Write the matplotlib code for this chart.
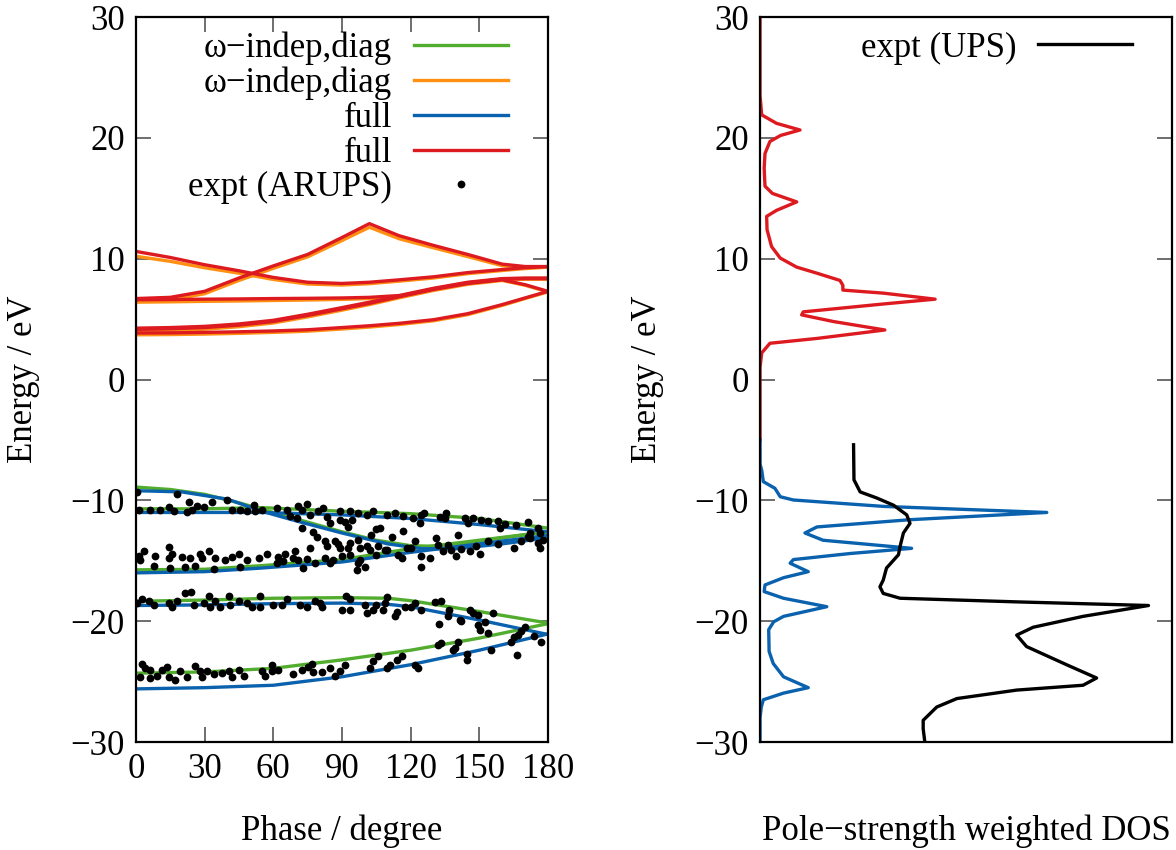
import numpy as np
import matplotlib
matplotlib.use('Agg')
import matplotlib.pyplot as plt

plt.rcParams['font.family'] = ['Liberation Serif', 'DejaVu Serif']
plt.rcParams['font.size'] = 24

# ---- conduction bands (phase grid shared) ----
ph_c = [0, 15, 30, 45, 60, 75, 90, 102, 115, 130, 145, 160, 170, 180]
red_c1 = [3.85, 3.86, 3.9, 3.95, 4.02, 4.12, 4.3, 4.45, 4.65, 4.95, 5.45, 6.2, 6.75, 7.3]
red_c2 = [4.15, 4.2, 4.3, 4.5, 4.8, 5.3, 5.85, 6.3, 6.85, 7.45, 7.95, 8.25, 7.85, 7.3]
red_c3 = [4.25, 4.3, 4.4, 4.6, 4.9, 5.4, 5.95, 6.4, 6.9, 7.5, 8.0, 8.3, 8.35, 8.35]
red_c4 = [6.6, 6.62, 6.65, 6.67, 6.7, 6.72, 6.75, 6.8, 6.95, 7.55, 8.05, 8.35, 8.4, 8.4]
red_c5 = [6.7, 6.8, 7.3, 8.4, 9.4, 10.35, 11.75, 12.9, 11.9, 11.1, 10.35, 9.55, 9.35, 9.35]
red_c6 = [10.6, 10.1, 9.5, 9.0, 8.45, 8.05, 7.95, 8.05, 8.25, 8.5, 8.85, 9.1, 9.25, 9.35]

org_c1 = [3.7, 3.72, 3.76, 3.82, 3.9, 4.0, 4.18, 4.34, 4.55, 4.86, 5.37, 6.13, 6.7, 7.25]
org_c2 = [4.0, 4.06, 4.16, 4.37, 4.68, 5.18, 5.74, 6.2, 6.76, 7.37, 7.88, 8.2, 7.8, 7.25]
org_c3 = [4.1, 4.16, 4.27, 4.48, 4.79, 5.29, 5.85, 6.3, 6.82, 7.43, 7.94, 8.25, 8.3, 8.3]
org_c4 = [6.4, 6.43, 6.47, 6.5, 6.54, 6.58, 6.63, 6.7, 6.86, 7.48, 8.0, 8.3, 8.35, 8.35]
org_c5 = [6.45, 6.58, 7.1, 8.2, 9.2, 10.15, 11.5, 12.6, 11.65, 10.9, 10.17, 9.42, 9.25, 9.3]
org_c6 = [10.2, 9.78, 9.25, 8.8, 8.28, 7.9, 7.82, 7.93, 8.14, 8.4, 8.76, 9.02, 9.18, 9.3]

# ---- valence bands ----
ph_vA = [0, 15, 30, 45, 60, 75, 90, 105, 120, 130, 145, 160, 180]
grn_vA = [-8.9, -9.1, -9.5, -10.2, -11.0, -11.8, -12.6, -13.3, -13.75, -13.8, -13.5, -13.1, -12.6]
ph_bA = [0, 20, 40, 55, 70, 90, 110, 125, 140, 160, 180]
blu_vA = [-9.2, -9.3, -9.9, -10.9, -11.7, -12.7, -13.6, -14.0, -14.0, -13.6, -13.1]

ph_v = [0, 30, 55, 90, 120, 150, 180]
grn_vB = [-10.7, -10.7, -10.6, -10.9, -11.1, -11.5, -12.3]
blu_vB = [-11.0, -11.0, -11.0, -11.2, -11.5, -12.0, -12.6]
grn_vC = [-15.75, -15.7, -15.4, -14.9, -14.0, -13.3, -12.6]
blu_vC = [-16.0, -15.9, -15.6, -15.1, -14.3, -13.6, -12.9]

ph_vD = [0, 30, 60, 90, 110, 120, 150, 180]
grn_vD = [-18.35, -18.25, -18.1, -18.05, -18.1, -18.3, -19.2, -20.15]
blu_vD = [-18.7, -18.65, -18.55, -18.5, -18.6, -18.8, -19.9, -21.1]

ph_vE = [0, 30, 60, 90, 120, 150, 180]
grn_vE = [-24.3, -24.2, -23.9, -23.2, -22.4, -21.4, -20.2]
blu_vE = [-25.6, -25.5, -25.3, -24.6, -23.6, -22.4, -21.05]

# ---- experimental ARUPS points ----
arups_ph = [0.4, 17.9, 1.2, 6.3, 10.6, 14.3, 16.5, 23, 22.3, 24.5, 26.6, 29.6, 33.2, 39.8, 41.9, 45.6,
            48.5, 51.4, 52.1, 55,
            1.2, 3.4, 1.9, 8.4, 7.7, 14.3, 15.7, 14.3, 15, 20.1, 21.5, 23.7, 25.9, 28.1, 28.8, 31.8,
            34.6, 33.9, 39, 41.9, 44.9, 45.6, 48.5, 53.6, 57.2,
            61.5, 65.8, 70.9, 74.6, 72.4, 67.3, 70.2, 76, 79.7, 81.8, 83.3, 84.8, 89.1, 93.5, 89.1,
            91.3, 94.2, 97.1, 100.8, 103.7, 109.5, 113.1, 116.8, 92.8,
            72.4, 77.5, 78.9, 82.6, 83.3, 76, 86.9, 88.4, 89.1, 93.5, 92.8, 97.1, 97.9, 100.8, 102.2,
            102.9, 105.1, 106.6, 105.9, 109.5, 111.7, 116.8,
            62.2, 61.5, 65.1, 64.4, 69.5, 68.7, 70.9, 73.1, 74.6, 78.2, 82.6, 84.8, 86.2, 89.9, 93.5,
            97.9, 97.1, 96.4, 100, 105.1, 108.8, 114.6, 116.1, 118.3,
            121, 124.6, 125.8, 123.9, 132.7, 135.6, 134.9, 143.6, 145, 147.2, 150.9, 153.8, 158.1,
            158.9, 161.1, 166.1, 171.3, 172, 172, 175.6, 176.4, 140.7,
            121.8, 120.3, 124.6, 128.3, 124.6, 131.2, 131.9, 134.1, 136.3, 137.7, 139.9, 142.1, 145.8,
            148.7, 150.2, 153.8, 158.1, 165.4, 168.3, 171.3, 175.6, 176.4, 177.8,
            0.4, 2.6, 5.5, 7.7, 14.3, 15.7, 17.9, 21.5, 24.2, 25.2, 29.6, 31.8, 32.5, 34.6, 36.8,
            40.5, 41.2, 44.9, 48.5, 50.7, 54.3, 54.3,
            2.6, 4.1, 1.9, 6.3, 6.3, 9.2, 11.4, 13.5, 14.3, 17.2, 19.4, 22.3, 25.9, 28.1, 28.8, 31,
            33.9, 37.6, 40.5, 41.9, 44.9, 47.1, 55, 56.5,
            60, 63.7, 65.8, 71.6, 74.6, 78.2, 80.4, 81.1, 89.9, 92, 93.5, 93.5, 100, 100.8, 103.7,
            105.1, 108, 108.8, 109.5, 113.1, 113.9, 117.5,
            59.3, 59.3, 62.2, 68.7, 72.4, 75.3, 76.8, 77.5, 81.1, 84.8, 86.9, 89.1, 91.3, 102.2,
            103.7, 105.9, 109.5, 111, 113.9, 116.1,
            120.3, 121.8, 124.6, 130.5, 133.4, 137, 136.3, 132.2, 141.4, 142.1, 145.8, 147.2, 149.4,
            149.4, 150.2, 152.3, 156, 153.8, 131.9, 133.1, 138.5, 139.2, 140.7, 144.7, 144.7, 155,
            164, 165.4, 166.9, 168.3, 170.1, 173.9, 177.1, 166.6, 121.8, 123.2]
arups_e = [-9.3, -9.45, -10.8, -10.8, -10.8, -10.55, -10.9, -10.1, -11.0, -10.8, -10.5, -10.55, -10.1,
           -9.95, -10.8, -10.8, -10.9, -10.35, -10.9, -10.8,
           -14.6, -14.2, -14.9, -14.6, -15.4, -13.9, -14.4, -14.8, -15.6, -14.7, -15.5, -14.8, -15.4,
           -14.4, -14.8, -14.2, -14.8, -15.65, -14.9, -14.7, -14.4, -15.55, -14.9, -14.8, -14.45,
           -10.65, -10.8, -10.5, -10.3, -10.8, -11.3, -11.5, -11.25, -10.9, -10.65, -11.4, -11.9,
           -10.9, -10.85, -11.6, -11.75, -11.6, -11.05, -11.2, -10.85, -11.2, -11.05, -11.3, -12.2,
           -12.3, -12.6, -13.0, -13.4, -13.8, -13.95, -13.4, -13.6, -13.95, -13.5, -13.95, -13.25,
           -13.95, -13.8, -14.1, -12.85, -12.4, -12.3, -13.8, -14.1, -13.0, -12.55,
           -14.7, -15.2, -14.4, -15.0, -14.2, -14.8, -14.9, -15.6, -14.85, -15.2, -14.8, -15.2,
           -14.9, -14.6, -14.5, -14.9, -15.2, -15.75, -15.5, -14.5, -14.1, -14.55, -14.8, -13.95,
           -11.5, -11.25, -11.05, -11.9, -11.4, -11.05, -11.45, -11.45, -11.9, -11.45, -11.6, -11.7,
           -11.7, -12.3, -11.95, -12.0, -11.75, -12.7, -13.1, -12.3, -12.7, -12.85,
           -13.4, -13.95, -14.6, -14.8, -15.5, -13.1, -13.7, -14.2, -13.7, -14.1, -14.6, -14.0,
           -14.2, -13.8, -14.4, -13.4, -13.6, -13.95, -13.4, -13.0, -13.5, -13.95, -13.25,
           -18.5, -18.2, -18.35, -18.65, -18.5, -18.8, -18.3, -17.7, -17.6, -18.65, -18.5, -17.9,
           -18.8, -18.35, -18.8, -17.95, -18.65, -18.35, -18.5, -18.8, -17.95, -18.8,
           -23.5, -23.9, -24.6, -24.0, -24.7, -24.5, -24.0, -23.8, -24.6, -24.9, -24.1, -24.6,
           -23.7, -24.1, -24.65, -24.15, -24.4, -24.3, -24.15, -24.65, -24.0, -24.5, -24.15, -24.5,
           -18.65, -18.65, -18.2, -18.65, -18.8, -18.35, -18.5, -18.8, -19.1, -17.95, -18.2, -19.05,
           -18.65, -19.3, -19.1, -18.7, -19.1, -18.5, -18.0, -19.6, -19.25, -18.8,
           -23.6, -24.15, -24.0, -24.4, -24.0, -23.8, -23.5, -24.2, -24.2, -23.9, -24.5, -24.1,
           -23.65, -23.9, -23.3, -22.9, -23.9, -23.6, -23.2, -22.9,
           -18.8, -18.5, -19.1, -18.4, -18.35, -19.05, -19.6, -20.25, -19.9, -20.0, -19.1, -19.3,
           -19.45, -20.3, -20.7, -20.1, -19.3, -21.0, -22.0, -21.8, -22.4, -22.2, -21.7, -22.7,
           -23.2, -22.4, -21.7, -21.3, -21.1, -20.8, -20.5, -21.2, -21.7, -22.8, -23.6, -23.9]

# ---- DOS panel ----
dos_red_x = [0, 0, 0.4, 4, 9.7, 5, 2.4, 1.2, 1.0, 1.2, 3, 8.9, 4, 1.6, 1.7, 2.8, 4.9, 8.9, 13.8, 19.4,
             20.1, 20.1, 29.9, 42.5, 29.9, 10.5, 10.1, 17.8, 30.3, 13.8, 2.4, 0.4, 0, 0]
dos_red_e = [30, 23.5, 21.9, 21.2, 20.65, 20.2, 19.7, 18.7, 17.5, 16.0, 15.4, 14.7, 14.0, 13.5, 12.4,
             11.0, 10.05, 9.3, 8.8, 8.2, 7.8, 7.4, 7.15, 6.65, 6.25, 5.6, 5.35, 4.8, 4.1, 3.4, 3.0,
             2.2, 1.0, -5.0]
dos_blu_x = [0, 0, 0.4, 0.8, 3.6, 4.9, 8.1, 30, 69.6, 36.4, 13.8, 10.9, 15.3, 36.8, 21.8, 8.1, 7.3,
             11.7, 5.7, 1.2, 1.0, 5.7, 16.2, 5.7, 3.3, 2.1, 2.2, 3.2, 5.7, 11.7, 5.7, 0.8, 0.3, 0, 0]
dos_blu_e = [-5, -7, -7.5, -8.45, -9.0, -9.7, -9.97, -10.5, -11.0, -11.6, -12.2, -12.7, -13.3,
             -13.97, -14.4, -14.9, -15.2, -15.9, -16.4, -17.0, -17.55, -18.1, -18.8, -19.6, -20.05,
             -20.7, -22.5, -23.5, -24.6, -25.5, -25.95, -26.5, -27.1, -28, -30]
ups_x = [22.7, 22.8, 24.3, 28.3, 32.4, 35.6, 36.4, 34.8, 34, 33.6, 30.7, 29.9, 29.1, 29.9, 34, 62.3,
         94.3, 78.4, 66.3, 62.3, 64.7, 74.4, 81.7, 78.4, 62.3, 47.8, 42.9, 39.6, 39.6, 40]
ups_e = [-5.4, -8.3, -9.3, -9.8, -10.4, -11.2, -11.9, -12.7, -13.8, -14.5, -15.6, -16.6, -17.15,
         -17.7, -18.1, -18.4, -18.7, -19.6, -20.5, -21.15, -22.1, -23.6, -24.7, -25.3, -25.7, -26.4,
         -27.1, -28.2, -28.9, -30]

c_green = '#52ad2e'
c_orange = '#ff9012'
c_blue = '#0a62ae'
c_red = '#dc1a1f'
lw = 2.4
leg_kw = dict(loc='upper right', bbox_to_anchor=(0.902, 0.98), frameon=False, markerfirst=False,
              handlelength=2.7, handletextpad=0.63, labelspacing=0.05, borderaxespad=0.0,
              borderpad=0.0, numpoints=1, fontsize=25)

fig = plt.figure(figsize=(11.76, 8.5), dpi=100)
ax1 = fig.add_axes([0.1156, 0.127, 0.3503, 0.853])
ax2 = fig.add_axes([0.6463, 0.127, 0.3503, 0.853])

# green / orange (omega-indep), then blue / red (full)
for i, (ph, y) in enumerate([(ph_vA, grn_vA), (ph_v, grn_vB), (ph_v, grn_vC), (ph_vD, grn_vD), (ph_vE, grn_vE)]):
    ax1.plot(ph, y, color=c_green, lw=lw, label='ω−indep,diag' if i == 0 else None)
for i, y in enumerate([org_c1, org_c2, org_c3, org_c4, org_c5, org_c6]):
    ax1.plot(ph_c, y, color=c_orange, lw=lw, label='ω−indep,diag' if i == 0 else None)
for i, (ph, y) in enumerate([(ph_bA, blu_vA), (ph_v, blu_vB), (ph_v, blu_vC), (ph_vD, blu_vD), (ph_vE, blu_vE)]):
    ax1.plot(ph, y, color=c_blue, lw=lw, label='full' if i == 0 else None)
for i, y in enumerate([red_c1, red_c2, red_c3, red_c4, red_c5, red_c6]):
    ax1.plot(ph_c, y, color=c_red, lw=lw, label='full' if i == 0 else None)
ax1.plot(arups_ph, arups_e, 'o', color='black', ms=5.6, mew=0, label='expt (ARUPS)')

ax1.set_xlim(0, 180)
ax1.set_ylim(-30, 30)
ax1.set_xticks(np.arange(0, 181, 30))
ax1.set_yticks(np.arange(-30, 31, 10))
ax1.set_xlabel('Phase / degree')
ax1.set_ylabel('Energy / eV')
ax1.tick_params(direction='in', length=11, width=1.2, color='#555555', top=True, right=True, pad=8,
                labelsize=25)
ax1.legend(**leg_kw)

ax2.plot(dos_red_x, dos_red_e, color=c_red, lw=lw)
ax2.plot(dos_blu_x, dos_blu_e, color=c_blue, lw=lw)
ax2.plot(ups_x, ups_e, color='black', lw=lw, label='expt (UPS)')
ax2.set_xlim(0, 100)
ax2.set_ylim(-30, 30)
ax2.set_xticks([])
ax2.set_yticks(np.arange(-30, 31, 10))
ax2.set_xlabel('Pole−strength weighted DOS')
ax2.set_ylabel('Energy / eV')
ax2.tick_params(direction='in', length=11, width=1.2, color='#555555', right=True, pad=8,
                labelsize=25)
ax2.legend(**leg_kw)

for ax in (ax1, ax2):
    ax.xaxis.label.set_size(25)
    ax.yaxis.label.set_size(25)
    ax.xaxis.set_label_coords(0.5, -0.1)
    ax.yaxis.set_label_coords(-0.232, 0.5)
    for s in ax.spines.values():
        s.set_linewidth(1.6)
        s.set_zorder(5)

fig.savefig('out.png', dpi=100)
